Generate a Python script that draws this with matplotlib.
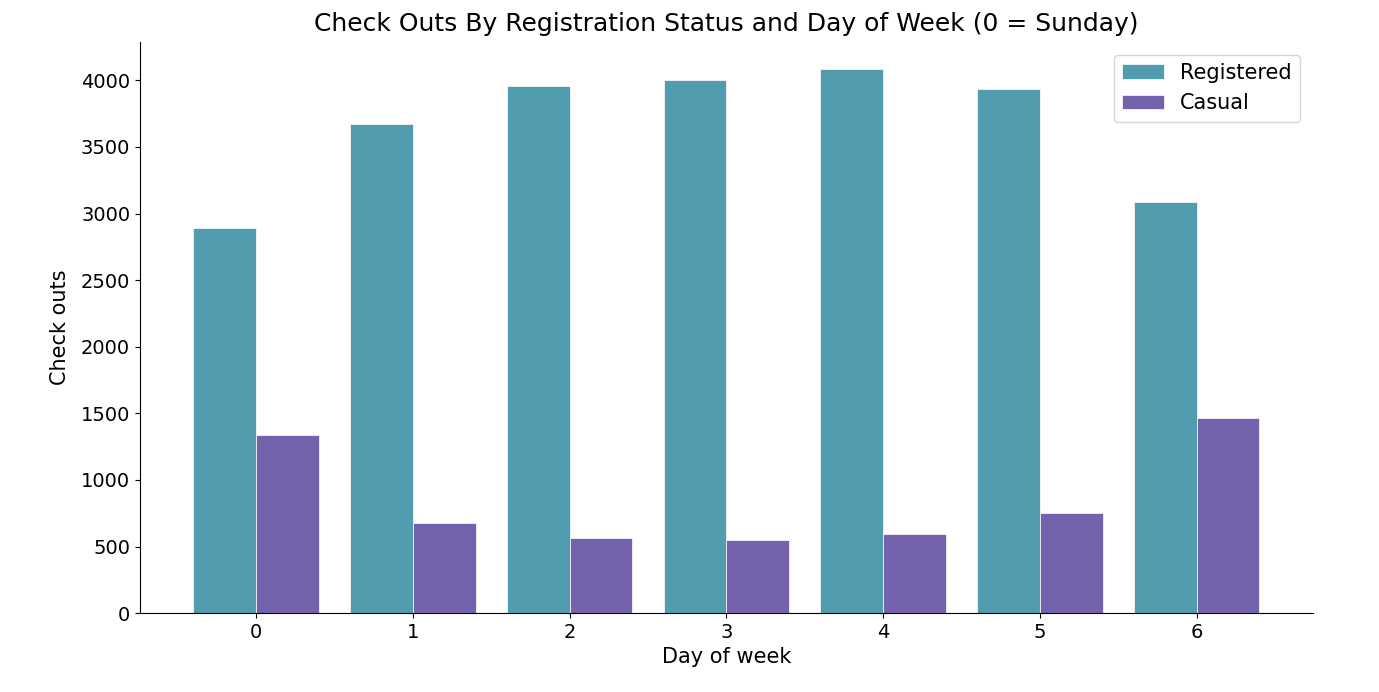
import numpy as np
import matplotlib
matplotlib.use("Agg")
import matplotlib.pyplot as plt

days = [0, 1, 2, 3, 4, 5, 6]
registered = [2890, 3670, 3960, 4005, 4082, 3938, 3084]
casual = [1336, 675, 563, 548, 593, 750, 1463]

fig = plt.figure(figsize=(13.79, 6.92), dpi=100)
ax = fig.add_axes([0.1015, 0.114, 0.8505, 0.825])

x = np.arange(len(days))
w = 0.4
ax.bar(x - w / 2, registered, w, color="#529cb0", edgecolor="white", linewidth=0.5, label="Registered")
ax.bar(x + w / 2, casual, w, color="#7562ad", edgecolor="white", linewidth=0.5, label="Casual")

ax.set_xticks(x)
ax.set_xticklabels([str(d) for d in days])
ax.tick_params(labelsize=14, length=3.5)
ax.set_xlabel("Day of week", fontsize=15)
ax.set_ylabel("Check outs", fontsize=15, labelpad=8)
ax.set_title("Check Outs By Registration Status and Day of Week (0 = Sunday)", fontsize=18, pad=8)
ax.spines["top"].set_visible(False)
ax.spines["right"].set_visible(False)
ax.legend(loc="upper right", fontsize=15, borderaxespad=0.6)

fig.savefig("out.png", dpi=100)
